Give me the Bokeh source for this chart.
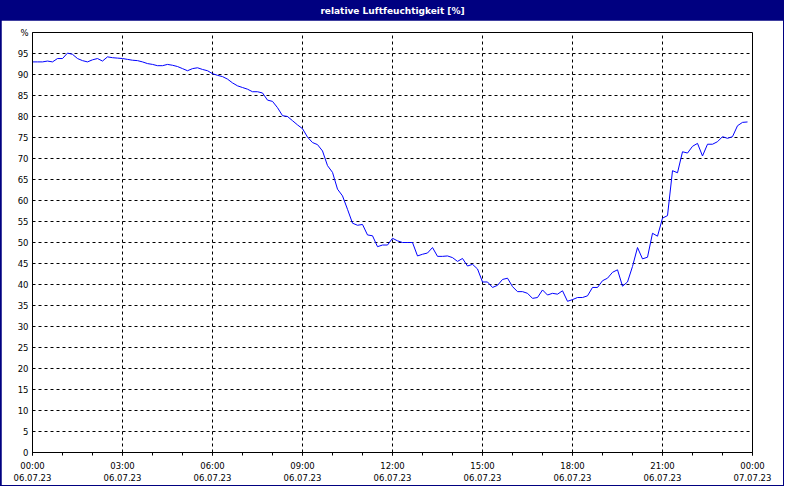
from bokeh.plotting import figure
from bokeh.models import FixedTicker, Label, ColumnDataSource, Range1d
from bokeh.layouts import column
from bokeh.embed import file_html
from bokeh.resources import INLINE

# ---- data (10-minute samples, 06.07.23 00:00 .. 23:50) ----
minutes = list(range(0, 1440, 10))
humidity = [
    93.0, 93.0, 93.0, 93.2, 93.0, 93.8, 93.8, 95.1, 94.8, 93.8,
    93.3, 93.0, 93.5, 93.8, 93.2, 94.2, 94.0, 93.9, 93.8, 93.6,
    93.4, 93.3, 93.0, 92.6, 92.4, 92.1, 92.1, 92.4, 92.2, 91.9,
    91.4, 90.9, 91.4, 91.6, 91.2, 90.9, 90.2, 89.8, 89.5, 88.9,
    88.0, 87.3, 86.9, 86.5, 85.9, 85.9, 85.6, 83.9, 83.6, 82.1,
    80.2, 80.0, 79.0, 78.0, 77.1, 75.1, 73.8, 73.3, 71.8, 68.3,
    66.7, 62.7, 61.1, 57.9, 54.6, 54.1, 54.3, 51.8, 51.6, 49.0,
    49.4, 49.4, 51.0, 50.4, 50.0, 50.0, 50.0, 46.8, 47.2, 47.5,
    48.8, 46.7, 46.7, 46.8, 46.4, 45.5, 46.2, 44.4, 44.8, 43.7,
    40.6, 40.6, 39.3, 39.8, 41.2, 41.5, 39.5, 38.3, 38.3, 37.9,
    36.7, 36.9, 38.7, 37.5, 37.9, 37.7, 38.5, 36.0, 36.4, 36.9,
    36.9, 37.3, 39.3, 39.3, 40.9, 41.5, 42.9, 43.5, 39.6, 40.6,
    44.3, 48.8, 46.1, 46.5, 52.2, 51.5, 55.8, 56.4, 67.1, 66.6,
    71.6, 71.3, 72.9, 73.6, 70.6, 73.4, 73.4, 74.0, 75.2, 74.8,
    75.2, 77.8, 78.6, 78.7,
]
x_tick_hours = [0, 3, 6, 9, 12, 15, 18, 21, 24]
x_tick_times = ["00:00", "03:00", "06:00", "09:00", "12:00", "15:00", "18:00", "21:00", "00:00"]
x_tick_dates = ["06.07.23"] * 8 + ["07.07.23"]
x_minor_hours = list(range(0, 25))
y_ticks = list(range(0, 101, 5))
y_top_label = "%"
title_text = "relative Luftfeuchtigkeit [%]"

NAVY = "#000080"
FONT = "DejaVu Sans"

hours = [m / 60.0 for m in minutes]
src = ColumnDataSource(data=dict(x=hours, y=humidity))

# ---- title bar ----
tp = figure(width=784, height=20, output_backend="svg", toolbar_location=None,
            x_range=Range1d(0, 1), y_range=Range1d(0, 1),
            min_border=0, min_border_left=0, min_border_right=0,
            min_border_top=0, min_border_bottom=0)
tp.axis.visible = False
tp.grid.visible = False
tp.outline_line_color = None
tp.background_fill_color = NAVY
tp.border_fill_color = NAVY
tp.add_layout(Label(x=0.5, y=0.5, text=title_text, text_align="center",
                    text_baseline="middle", text_color="white",
                    text_font=FONT, text_font_style="bold", text_font_size="9px"))

# ---- main chart ----
p = figure(frame_width=720, frame_height=420, output_backend="svg", toolbar_location=None,
           x_range=Range1d(0, 24), y_range=Range1d(0, 100),
           min_border_left=31, min_border_right=31, min_border_top=12, min_border_bottom=31,
           margin=(0, 1, 1, 1))
p.background_fill_color = "white"
p.border_fill_color = "white"
p.outline_line_color = "black"
p.outline_line_width = 1

p.line("x", "y", source=src, line_color="#0000FF", line_width=1)

xa = p.xaxis[0]
xa.ticker = FixedTicker(ticks=x_tick_hours, minor_ticks=x_minor_hours)
xa.major_label_overrides = {h: f"{t}\n{d}" for h, t, d in zip(x_tick_hours, x_tick_times, x_tick_dates)}
xa.major_tick_in = 0
xa.major_tick_out = 3
xa.minor_tick_in = 0
xa.minor_tick_out = 3
xa.major_label_standoff = 5

ya = p.yaxis[0]
ya.ticker = FixedTicker(ticks=y_ticks)
ya.major_label_overrides = {100: y_top_label}
ya.major_tick_in = 0
ya.major_tick_out = 0
ya.minor_tick_in = 0
ya.minor_tick_out = 0
ya.major_label_standoff = 4

for ax in (xa, ya):
    ax.axis_line_color = "black"
    ax.major_tick_line_color = "black"
    ax.minor_tick_line_color = "black"
    ax.major_label_text_font = FONT
    ax.major_label_text_font_size = "8.5px"
    ax.major_label_text_color = "black"

p.xgrid.ticker = FixedTicker(ticks=x_tick_hours)
p.ygrid.ticker = FixedTicker(ticks=y_ticks)
for g in (p.xgrid[0], p.ygrid[0]):
    g.grid_line_color = "black"
    g.grid_line_dash = "3 3"
    g.grid_line_width = 1

layout = column(tp, p, spacing=0, styles={"background-color": NAVY})

open("out.html", "w").write(file_html(layout, INLINE))
